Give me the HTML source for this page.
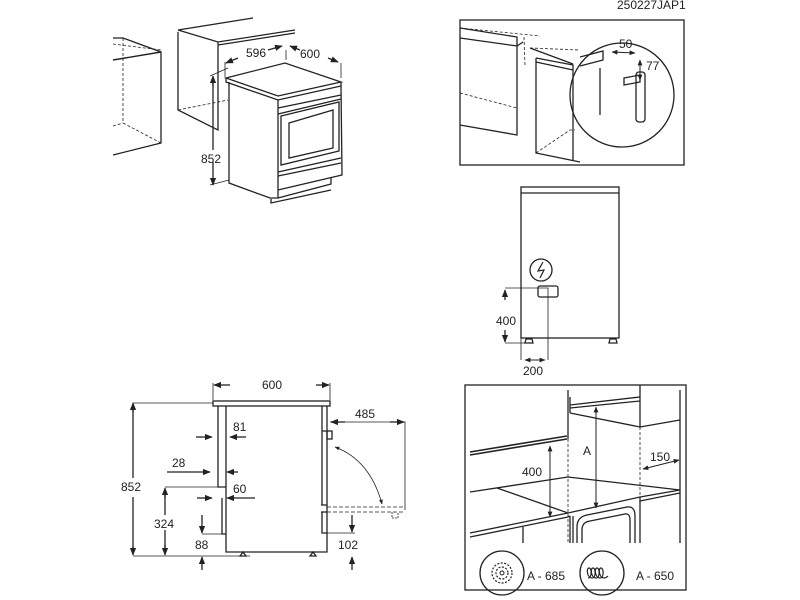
<!DOCTYPE html>
<html><head><meta charset="utf-8"><style>
html,body{margin:0;padding:0;background:#fff}
svg{display:block}
text{font-family:"Liberation Sans",sans-serif;font-size:12px;fill:#222}
</style></head><body>
<svg width="800" height="600" viewBox="0 0 800 600" xmlns="http://www.w3.org/2000/svg">
<defs>
<marker id="a" viewBox="0 0 10 10" refX="9" refY="5" markerWidth="6" markerHeight="6" orient="auto-start-reverse"><path d="M0,1 L10,5 L0,9 z" fill="#222"/></marker>
</defs>
<g fill="none" stroke="#222" stroke-width="1.3">
<!-- TOP LEFT -->
<text x="617" y="9" stroke="none">250227JAP1</text>
<path d="M113,38 L123,38 L161,52 L161,143 L113,155"/>
<path d="M113,60 L161,52" stroke-width="1.4"/>
<path d="M123,38 L123,123 L161,143 M113,126 L123,123 M113,44 L161,50" stroke-dasharray="3,2" stroke-width="0.8"/>
<path d="M178,30 L253,18 M178,30 L218,42 L295,30 M218,45 L295,33 M178,32 L178,110 L218,130 L218,42"/>
<path d="M178,110 L228,100" stroke-dasharray="3,2" stroke-width="0.8"/>
<path d="M226,78 L285,63 L341,82 L278,96 Z"/>
<path d="M226,78 L226,82 L278,100 L341,86 L341,82"/>
<path d="M229,82 L229,183 L270,198 L278,198 L278,100"/>
<path d="M341,86 L342,175 L278,190"/>
<path d="M278,108 L341,95 M278,114 L341,99 M281,116 L281,165 L339,151 L339,102 Z M289,123 L289,158 L333,148 L333,110 Z M278,172 L341,158 M278,176 L341,163 M331,177 L331,184 L278,198 M271,199 L271,203 L331,190"/>
<path d="M225,77 L225,62 M341,78 L341,63 M286,60 L286,50" stroke-width="0.8"/>
<path d="M238,58 L226,63" marker-end="url(#a)"/>
<path d="M268,50 L282,46" marker-end="url(#a)"/>
<path d="M290,46 L300,50" marker-start="url(#a)"/>
<path d="M328,58 L338,62" marker-end="url(#a)"/>
<path d="M213,80 L213,150 M213,162 L213,184" />
<path d="M213,86 L213,76" marker-end="url(#a)"/><path d="M213,178 L213,185" marker-end="url(#a)"/>
<path d="M210,76 L228,68 M210,185 L229,180" stroke-width="0.8"/>
<text x="201" y="163" stroke="none">852</text>
<text x="246" y="57" stroke="none">596</text>
<text x="300" y="58" stroke="none">600</text>

<!-- TOP RIGHT -->
<rect x="460" y="20" width="224" height="145"/>
<path d="M460,28 L517,37 L517,135 L460,125 M460,38 L517,46 L523,42"/>
<path d="M460,28 L540,36 M460,93 L517,108" stroke-dasharray="3,2" stroke-width="0.8"/>
<path d="M536,58 L573,65 L573,160 M536,58 L536,153 L580,162 M536,62 L573,70"/>
<path d="M536,153 L570,130 L575,130" stroke-dasharray="3,2" stroke-width="0.8"/>
<path d="M530,48 L580,50 M524,37 L525,65" stroke-dasharray="3,2" stroke-width="0.8"/>
<path d="M530,48 L573,64"/>
<circle cx="622" cy="95" r="52"/>
<path d="M580,57 L603,51 L603,60 L580,66 M600,68 L600,115"/>
<path d="M612,52 L635,53" marker-start="url(#a)" marker-end="url(#a)" stroke-width="1"/>
<path d="M640,60 L640,80" marker-start="url(#a)" marker-end="url(#a)" stroke-width="1"/>
<rect x="636" y="72" width="9" height="50" rx="3"/>
<path d="M624,78 L640,75 L640,82 L624,85 Z"/>
<text x="619" y="48" stroke="none">50</text>
<text x="646" y="70" stroke="none">77</text>

<!-- MIDDLE RIGHT -->
<rect x="521" y="187" width="98" height="151"/>
<path d="M521,193 L619,193" />
<circle cx="541" cy="270" r="11"/>
<path d="M543,262 L538,271 L544,270 L540,278" stroke-width="1.2"/>
<rect x="538" y="286" width="20" height="11" rx="2"/>
<path d="M526,339 L532,339 L533,343 L525,343 Z M610,339 L616,339 L617,343 L609,343 Z"/>
<path d="M505,288 L548,288 L548,360 M505,343 L525,343 M521,338 L521,360" stroke-width="0.8"/>
<path d="M505,300 L505,290" marker-end="url(#a)"/><path d="M505,330 L505,342" marker-end="url(#a)"/>
<path d="M525,360 L545,360" marker-start="url(#a)" marker-end="url(#a)" stroke-width="1"/>
<text x="496" y="325" stroke="none">400</text>
<text x="523" y="375" stroke="none">200</text>

<!-- BOTTOM LEFT -->
<rect x="213" y="401" width="117" height="5"/>
<path d="M226,406 L226,552 L327,552 L327,406 M218,406 L218,487 L226,487 M222,498 L222,534 L226,534 M322,406 L322,431 L327,431 M322,431 L322,505 M322,512 L322,533 L327,533 M321,512 L327,512 M321,505 L327,505"/>
<rect x="327" y="431" width="5" height="8"/>
<path d="M243,552 L246,556 L240,556 Z M313,552 L316,556 L310,556 Z"/>
<path d="M213,400 L213,383 M330,400 L330,383" stroke-width="0.8"/>
<path d="M230,385 L214,385" marker-end="url(#a)"/><path d="M316,385 L329,385" marker-end="url(#a)"/>
<text x="262" y="389" stroke="none">600</text>
<path d="M133,403 L213,403 M133,556 L250,556 M165,487 L218,487 M330,422 L405,422 L405,510 M322,533 L355,533 M202,534 L222,534" stroke-width="0.8"/>
<path d="M133,412 L133,403" marker-end="url(#a)"/><path d="M133,546 L133,555" marker-end="url(#a)"/>
<path d="M133,410 L133,478 M133,497 L133,548"/>
<text x="121" y="491" stroke="none">852</text>
<path d="M165,498 L165,488" marker-end="url(#a)"/><path d="M165,545 L165,555" marker-end="url(#a)"/>
<path d="M165,495 L165,515 M165,530 L165,548"/>
<text x="154" y="528" stroke="none">324</text>
<path d="M345,422 L331,422" marker-end="url(#a)"/><path d="M390,422 L404,422" marker-end="url(#a)"/>
<text x="355" y="418" stroke="none">485</text>
<path d="M327,507 L405,507 M327,512 L405,512" stroke-dasharray="4,2" stroke-width="0.8"/>
<path d="M392,512 L392,518 L398,518 L398,512" stroke-dasharray="2,1" stroke-width="0.8"/>
<path d="M335,447 Q370,460 382,504" stroke-width="0.8" marker-start="url(#a)" marker-end="url(#a)"/>
<path d="M196,437 L212,437" marker-end="url(#a)"/><path d="M246,437 L230,437" marker-end="url(#a)"/>
<text x="233" y="431" stroke="none">81</text>
<path d="M167,472 L210,472" marker-end="url(#a)"/><path d="M238,472 L227,472" marker-end="url(#a)"/>
<text x="172" y="467" stroke="none">28</text>
<path d="M197,498 L212,498" marker-end="url(#a)"/><path d="M255,498 L227,498" marker-end="url(#a)"/>
<text x="233" y="493" stroke="none">60</text>
<path d="M202,515 L202,533" marker-end="url(#a)"/><path d="M202,570 L202,557" marker-end="url(#a)"/>
<text x="195" y="549" stroke="none">88</text>
<path d="M352,515 L352,532" marker-end="url(#a)"/><path d="M352,570 L352,557" marker-end="url(#a)"/>
<text x="338" y="549" stroke="none">102</text>

<!-- BOTTOM RIGHT -->
<rect x="465" y="385" width="221" height="205"/>
<path d="M470,455 L567,439 M470,452 L567,436" stroke-width="1.6"/>
<path d="M568,390 L568,439"/>
<path d="M570,405 L640,397 M570,408 L640,401 M570,413 L640,427 L680,420 M640,385 L640,427 M680,390 L680,543 M570,397 L570,413"/>
<path d="M568,439 L568,543 M640,427 L640,543" stroke-dasharray="3,2" stroke-width="0.8"/>
<path d="M470,492 L568,477 L680,490 M497,488 L568,513 L640,497 L680,490 M640,497 L640,501 L680,493 M470,533 L568,513 M470,537 L568,517 M568,517 L570,516"/>
<path d="M523,527 L523,543 M570,516 L570,543 M573,516 L573,543 M640,501 L640,543"/>
<path d="M577,543 L577,527 Q577,517 587,515 L627,507 Q635,506 635,516 L635,543 M582,543 L582,530 Q582,522 590,521 L625,514 Q630,513 630,520 L630,543"/>
<path d="M550,446 L550,517" marker-start="url(#a)" marker-end="url(#a)" stroke-width="1"/>
<path d="M596,407 L596,508" marker-start="url(#a)" marker-end="url(#a)" stroke-width="1"/>
<path d="M643,469 L679,460" marker-start="url(#a)" marker-end="url(#a)" stroke-width="1"/>
<text x="522" y="476" stroke="none">400</text>
<text x="583" y="455" stroke="none">A</text>
<text x="650" y="461" stroke="none">150</text>
<circle cx="502" cy="573" r="22"/>
<circle cx="502" cy="573" r="10" stroke-dasharray="2,1.5" stroke-width="1.2"/>
<circle cx="502" cy="573" r="6" stroke-dasharray="2,1.5" stroke-width="1.2"/>
<circle cx="502" cy="573" r="2" stroke-width="1"/>
<text x="527" y="580" stroke="none">A - 685</text>
<circle cx="602" cy="573" r="22"/>
<path d="M588,578 c4,0 4,-10 1,-10 c-3,0 -2,10 3,10 c4,0 4,-10 1,-10 c-3,0 -2,10 3,10 c4,0 4,-10 1,-10 c-3,0 -2,10 3,10 c4,0 4,-10 1,-10 c-3,0 -2,10 3,10 c2,0 3,-1 4,-2" stroke-width="1.2"/>
<text x="636" y="580" stroke="none">A - 650</text>
</g>
</svg>
</body></html>
